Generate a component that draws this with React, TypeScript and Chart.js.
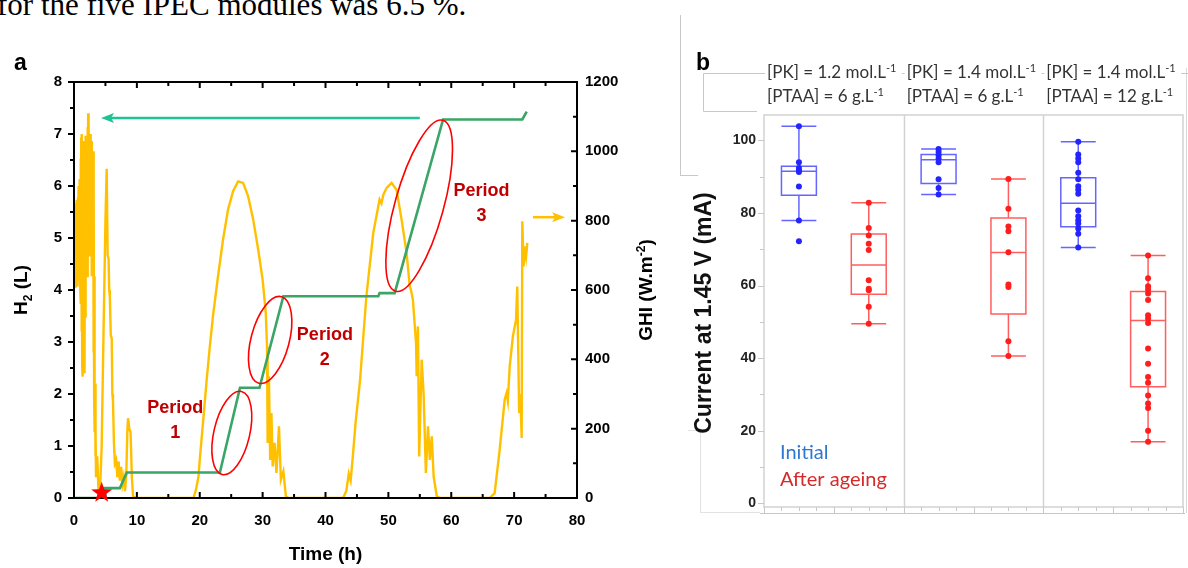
import React, { useEffect, useRef } from "react";
import { Chart, registerables } from "chart.js";

Chart.register(...registerables);

// ---------------- Panel a data ----------------
const h2Time = [0, 4.4, 4.7, 7.3, 8.4, 23.2, 26.4, 29.5, 33.3, 48.4, 48.6, 51.0, 58.7, 71.3, 72.0];
const h2Litres = [0, 0, 0.19, 0.19, 0.49, 0.49, 2.12, 2.12, 3.88, 3.88, 3.94, 3.94, 7.28, 7.28, 7.43];

const ghiTime = [
  0.05, 0.1, 0.15, 0.2, 0.25, 0.3, 0.35, 0.4, 0.45, 0.5, 0.55, 0.6, 0.65, 0.7, 0.75, 0.8, 0.85, 0.9, 0.95, 1.0,
  1.05, 1.1, 1.15, 1.2, 1.25, 1.3, 1.35, 1.4, 1.45, 1.5, 1.55, 1.6, 1.65, 1.7, 1.75, 1.8, 1.85, 1.9, 1.95, 2.0,
  2.05, 2.1, 2.15, 2.2, 2.25, 2.3, 2.35, 2.4, 2.45, 2.5, 2.55, 2.6, 2.65, 2.7, 2.75, 2.8, 2.85, 2.9, 2.95, 3.0,
  3.05, 3.1, 3.15, 3.2, 3.25, 3.3, 3.35, 3.4, 3.45, 3.5,
  3.7, 3.9, 4.1, 4.4, 4.7, 5.0, 5.2, 5.35, 5.5, 5.6, 5.7, 5.85, 6.0, 6.1, 6.2, 6.35, 6.5, 6.7, 6.9, 7.1,
  7.3, 7.5, 7.7, 7.9, 8.1, 8.3, 8.5, 8.6, 8.8, 9.0, 9.2, 9.4, 9.8,
  19.0, 19.4, 19.8, 20.0, 20.6, 21.1, 21.6, 22.1, 22.9, 23.7, 24.5, 25.3, 26.1, 26.9, 27.7, 28.5, 29.3,
  30.0, 30.5, 30.7, 30.8, 31.0, 31.2, 31.4, 31.6, 31.9, 32.2, 32.6, 32.9, 33.3, 33.7, 34.1,
  42.8, 43.3, 43.7, 44.0, 44.3, 44.8, 45.5, 46.5, 47.6, 48.6, 48.9, 49.2, 49.7, 50.5, 51.3, 52.1, 52.9,
  53.4, 53.6, 53.9, 54.4, 54.5, 54.7, 54.9, 55.3, 55.6, 55.96, 56.3, 56.6, 56.9, 57.2, 57.7, 58.2,
  66.1, 66.9, 67.7, 68.5, 68.8, 69.0, 69.3, 69.8, 70.3, 70.5, 70.8, 71.0, 71.2, 71.3, 71.5, 71.7, 71.9, 72.1,
];
const ghiValue = [
  745, 640, 790, 610, 820, 660, 850, 620, 860, 700, 830, 610, 870, 650, 900, 630, 880, 700, 920, 600,
  980, 560, 1040, 480, 1050, 380, 990, 350, 1000, 420, 1030, 600, 960, 360, 1000, 520, 1045, 650, 1010, 700,
  1040, 640, 1070, 760, 1110, 850, 1060, 700, 1040, 820, 1020, 760, 1050, 900, 1010, 640, 1030, 820, 980, 700,
  1000, 420, 900, 300, 640, 190, 330, 120, 200, 60,
  120, 20, 0, 150, 480, 800, 950, 700, 690, 600, 580, 470, 460, 300, 280, 160, 100, 110, 60, 105,
  50, 90, 40, 60, 20, 60, 200, 230, 200, 190, 60, 5, 0,
  0, 24, 62, 110, 235, 341, 437, 524, 639, 745, 832, 885, 913, 909, 870, 803, 716,
  630, 534, 437, 159, 351, 110, 245, 91, 159, 72, 207, 53, 77, 5, 0,
  0, 20, 70, 50, 110, 220, 341, 582, 765, 861, 850, 875, 894, 909, 889, 803, 707,
  610, 600, 572, 447, 351, 495, 120, 399, 303, 72, 207, 110, 178, 62, 5, 0,
  0, 14, 139, 284, 303, 280, 380, 466, 514, 610, 245, 300, 173, 798, 668, 726, 697, 736,
];

// annotation anchors (data coordinates)
const periodNames = ["1", "2", "3"];
const periodCentreT = [25.1, 31.2, 54.9];
const periodCentreH2 = [1.25, 3.04, 5.62];
const periodLabelT = [16.1, 39.9, 64.8];
const periodLabelH2 = [1.73, 3.13, 5.91];
const h2ArrowT = [55.0, 4.3];
const h2ArrowLevel = 7.31;
const ghiArrowT = [73.0, 78.1];
const ghiArrowLevel = 810;
const startMarkT = 4.4;
const startMarkH2 = 0.1;

// ---------------- Panel b data ----------------
const groupPK = ["[PK] = 1.2 mol.L", "[PK] = 1.4 mol.L", "[PK] = 1.4 mol.L"];
const groupPTAA = ["[PTAA] = 6 g.L", "[PTAA] = 6 g.L", "[PTAA] = 12 g.L"];
const groupStart = [0, 2, 4];
const boxPos = [0.5, 1.5, 2.5, 3.5, 4.5, 5.5];
const boxIsInitial = [true, false, true, false, true, false];
const whiskerHigh = [103.9, 82.8, 97.6, 89.4, 99.6, 68.3];
const quart3 = [92.9, 74.2, 96.1, 78.6, 89.7, 58.4];
const medianVal = [91.5, 65.7, 94.7, 69.1, 82.7, 50.4];
const quart1 = [84.9, 57.6, 88.1, 52.2, 76.2, 32.1];
const whiskerLow = [77.9, 49.5, 85.1, 40.6, 70.5, 17.0];

const initial1 = [103.9, 94.0, 92.4, 91.7, 91.3, 87.3, 77.9, 72.2];
const aged1 = [82.8, 75.9, 73.8, 71.5, 69.8, 61.5, 59.1, 58.7, 54.2, 49.5];
const initial2 = [97.6, 96.8, 95.9, 95.0, 94.0, 89.3, 86.9, 85.1];
const aged2 = [89.4, 81.2, 76.3, 75.0, 69.2, 60.3, 59.6, 44.7, 40.6];
const initial3 = [99.6, 96.1, 95.0, 94.0, 91.1, 89.3, 87.4, 86.4, 85.3, 80.7, 79.1, 78.0, 77.1, 75.7, 74.3, 70.5];
const aged3 = [68.3, 62.0, 59.8, 58.9, 57.8, 56.0, 51.8, 50.9, 49.7, 42.7, 38.5, 34.8, 33.2, 29.7, 27.5, 26.3, 20.0, 17.0];
const yTicksB = [0, 20, 40, 60, 80, 100];
const legendLabels = ["Initial", "After ageing"];
const legendLevels = [14.1, 6.7];

// ---------------- styles ----------------
const SANS = '"Liberation Sans", Arial, sans-serif';
const LATO = 'Lato, "Liberation Sans", sans-serif';
const YELLOW = "#ffc000";
const GREEN = "#3aa566";
const TEAL = "#1fc294";
const DARKRED = "#c00000";
const BLUE_PT = "#2424ff";
const RED_PT = "#ff1e1e";
const BLUE_LN = "rgba(50,50,255,0.75)";
const RED_LN = "rgba(255,40,40,0.75)";
const ellipseRadii = [
  [17.9, 42.6, 13.2],
  [19.1, 44.7, 14.7],
  [24.3, 88.7, 15.5],
];

type Part = { t: string; f: string; dy: number };
function drawRich(ctx: CanvasRenderingContext2D, parts: Part[], x: number, y: number, align: "left" | "center") {
  let total = 0;
  parts.forEach((p) => {
    ctx.font = p.f;
    total += ctx.measureText(p.t).width;
  });
  let cx = align === "center" ? x - total / 2 : x;
  ctx.textAlign = "left";
  parts.forEach((p) => {
    ctx.font = p.f;
    ctx.fillText(p.t, cx, y + p.dy);
    cx += ctx.measureText(p.t).width;
  });
  return total;
}

function arrow(ctx: CanvasRenderingContext2D, x0: number, x1: number, y: number, color: string) {
  const dir = Math.sign(x1 - x0);
  ctx.strokeStyle = color;
  ctx.fillStyle = color;
  ctx.lineWidth = 2.5;
  ctx.beginPath();
  ctx.moveTo(x0, y);
  ctx.lineTo(x1 - dir * 8, y);
  ctx.stroke();
  ctx.beginPath();
  ctx.moveTo(x1, y);
  ctx.lineTo(x1 - dir * 13, y - 5);
  ctx.lineTo(x1 - dir * 10, y);
  ctx.lineTo(x1 - dir * 13, y + 5);
  ctx.closePath();
  ctx.fill();
}

const panelAPlugin = {
  id: "panelA",
  afterDatasetsDraw(chart: any) {
    const { ctx, chartArea: ca, scales } = chart;
    const xs = scales.x;
    const ys = scales.y;
    const y1 = scales.y1;
    ctx.save();
    // frame
    ctx.strokeStyle = "#000";
    ctx.lineWidth = 2;
    ctx.strokeRect(ca.left, ca.top, ca.right - ca.left, ca.bottom - ca.top);
    // ticks
    ctx.beginPath();
    for (let v = 0; v <= 80; v += 5) {
      const px = xs.getPixelForValue(v);
      const len = v % 10 === 0 ? 6 : 4;
      ctx.moveTo(px, ca.bottom);
      ctx.lineTo(px, ca.bottom - len);
      ctx.moveTo(px, ca.top);
      ctx.lineTo(px, ca.top + len);
    }
    for (let v = 0; v <= 8; v += 0.5) {
      const py = ys.getPixelForValue(v);
      const len = v % 1 === 0 ? 6 : 4;
      ctx.moveTo(ca.left, py);
      ctx.lineTo(ca.left - len, py);
    }
    for (let v = 0; v <= 1200; v += 100) {
      const py = y1.getPixelForValue(v);
      const len = v % 200 === 0 ? 6 : 4;
      ctx.moveTo(ca.right, py);
      ctx.lineTo(ca.right - len, py);
    }
    ctx.stroke();

    // ellipses
    ctx.strokeStyle = "#ff0000";
    ctx.lineWidth = 1.6;
    periodCentreT.forEach((t, i) => {
      const cx = xs.getPixelForValue(t);
      const cy = ys.getPixelForValue(periodCentreH2[i]);
      const [rx, ry, rot] = ellipseRadii[i];
      ctx.beginPath();
      ctx.ellipse(cx, cy, rx, ry, (rot * Math.PI) / 180, 0, Math.PI * 2);
      ctx.stroke();
    });
    // period labels
    ctx.fillStyle = DARKRED;
    ctx.font = `bold 18px ${SANS}`;
    ctx.textAlign = "center";
    ctx.textBaseline = "middle";
    periodLabelT.forEach((t, i) => {
      const cx = xs.getPixelForValue(t);
      const cy = ys.getPixelForValue(periodLabelH2[i]);
      ctx.fillText("Period", cx, cy);
      ctx.fillText(periodNames[i], cx, cy + 25);
    });
    // arrows
    arrow(ctx, xs.getPixelForValue(h2ArrowT[0]), xs.getPixelForValue(h2ArrowT[1]), ys.getPixelForValue(h2ArrowLevel), TEAL);
    arrow(ctx, xs.getPixelForValue(ghiArrowT[0]), xs.getPixelForValue(ghiArrowT[1]), y1.getPixelForValue(ghiArrowLevel), YELLOW);
    // star
    const sx = xs.getPixelForValue(startMarkT);
    const sy = ys.getPixelForValue(startMarkH2);
    ctx.fillStyle = "#ff0000";
    ctx.beginPath();
    for (let k = 0; k < 10; k++) {
      const r = k % 2 === 0 ? 11 : 4.5;
      const a = -Math.PI / 2 + (k * Math.PI) / 5;
      const px = sx + r * Math.cos(a);
      const py = sy + r * Math.sin(a);
      if (k === 0) ctx.moveTo(px, py);
      else ctx.lineTo(px, py);
    }
    ctx.closePath();
    ctx.fill();

    // titles
    ctx.fillStyle = "#000";
    ctx.textBaseline = "alphabetic";
    ctx.font = `bold 23px ${SANS}`;
    ctx.textAlign = "left";
    ctx.fillText("a", 14, 70);
    ctx.font = `bold 19px ${SANS}`;
    ctx.textAlign = "center";
    ctx.fillText("Time (h)", (ca.left + ca.right) / 2, 560);
    const midY = (ca.top + ca.bottom) / 2;
    ctx.save();
    ctx.translate(27, midY);
    ctx.rotate(-Math.PI / 2);
    drawRich(
      ctx,
      [
        { t: "H", f: `bold 19px ${SANS}`, dy: 0 },
        { t: "2", f: `bold 12px ${SANS}`, dy: 5 },
        { t: " (L)", f: `bold 19px ${SANS}`, dy: 0 },
      ],
      0,
      0,
      "center"
    );
    ctx.restore();
    ctx.save();
    ctx.translate(652, midY);
    ctx.rotate(-Math.PI / 2);
    drawRich(
      ctx,
      [
        { t: "GHI (W.m", f: `bold 19px ${SANS}`, dy: 0 },
        { t: "-2", f: `bold 12px ${SANS}`, dy: -7 },
        { t: ")", f: `bold 19px ${SANS}`, dy: 0 },
      ],
      0,
      0,
      "center"
    );
    ctx.restore();
    ctx.restore();
  },
};

const panelBPlugin = {
  id: "panelB",
  beforeDatasetsDraw(chart: any) {
    const { ctx, chartArea: ca, scales } = chart;
    const xs = scales.x;
    const ys = scales.y;
    ctx.save();
    // frame & separators
    ctx.strokeStyle = "#d2d2d2";
    ctx.lineWidth = 1.5;
    ctx.strokeRect(ca.left, ca.top, ca.right - ca.left, ca.bottom - ca.top);
    ctx.beginPath();
    groupStart.slice(1).forEach((g) => {
      const px = Math.round(xs.getPixelForValue(g)) + 0.5;
      ctx.moveTo(px, ca.top);
      ctx.lineTo(px, ca.bottom);
    });
    ctx.stroke();
    // bottom axis band with ticks
    ctx.strokeStyle = "#c8c8c8";
    ctx.lineWidth = 1;
    ctx.beginPath();
    ctx.moveTo(ca.left - 4, ca.bottom + 6.5);
    ctx.lineTo(ca.right + 2, ca.bottom + 6.5);
    for (let v = 0; v <= 6.001; v += 0.25) {
      const px = Math.round(xs.getPixelForValue(v)) + 0.5;
      ctx.moveTo(px, ca.bottom);
      ctx.lineTo(px, ca.bottom + (Math.abs(v - Math.round(v)) < 0.01 ? 6 : 4));
    }
    // left ticks
    for (let v = 0; v <= 100; v += 10) {
      const py = Math.round(ys.getPixelForValue(v)) + 0.5;
      ctx.moveTo(ca.left, py);
      ctx.lineTo(ca.left - (v % 20 === 0 ? 6 : 4), py);
    }
    ctx.stroke();
    // outer page edge at the right
    ctx.strokeStyle = "#d8d8d8";
    ctx.beginPath();
    ctx.moveTo(ca.right + 3.5, 68);
    ctx.lineTo(ca.right + 3.5, ca.bottom + 6);
    ctx.stroke();

    // boxes
    ctx.lineWidth = 1.5;
    boxPos.forEach((p, i) => {
      ctx.strokeStyle = boxIsInitial[i] ? BLUE_LN : RED_LN;
      const cx = xs.getPixelForValue(p);
      const l = xs.getPixelForValue(p - 0.25);
      const r = xs.getPixelForValue(p + 0.25);
      const yq3 = ys.getPixelForValue(quart3[i]);
      const yq1 = ys.getPixelForValue(quart1[i]);
      const ym = ys.getPixelForValue(medianVal[i]);
      const yh = ys.getPixelForValue(whiskerHigh[i]);
      const yl = ys.getPixelForValue(whiskerLow[i]);
      ctx.beginPath();
      ctx.rect(l, yq3, r - l, yq1 - yq3);
      ctx.moveTo(l, ym);
      ctx.lineTo(r, ym);
      ctx.moveTo(cx, yq3);
      ctx.lineTo(cx, yh);
      ctx.moveTo(cx, yq1);
      ctx.lineTo(cx, yl);
      ctx.moveTo(l, yh);
      ctx.lineTo(r, yh);
      ctx.moveTo(l, yl);
      ctx.lineTo(r, yl);
      ctx.stroke();
    });
    ctx.restore();
  },
  afterDraw(chart: any) {
    const { ctx, chartArea: ca, scales } = chart;
    const xs = scales.x;
    const ys = scales.y;
    ctx.save();
    // document frame lines around the header and the axis
    ctx.strokeStyle = "#c8c8c8";
    ctx.lineWidth = 1;
    ctx.beginPath();
    ctx.moveTo(23.5, 73.5);
    ctx.lineTo(508, 73.5);
    ctx.moveTo(23.5, 73.5);
    ctx.lineTo(23.5, 111.5);
    ctx.lineTo(77, 111.5);
    ctx.moveTo(0, 175.5);
    ctx.lineTo(18, 175.5);
    ctx.stroke();
    ctx.strokeStyle = "#e2e2e2";
    ctx.beginPath();
    ctx.moveTo(8, 430.5);
    ctx.lineTo(20.5, 430.5);
    ctx.lineTo(20.5, 512.5);
    ctx.lineTo(80, 512.5);
    ctx.stroke();
    // headers
    ctx.textBaseline = "middle";
    groupStart.forEach((g, i) => {
      const x0 = xs.getPixelForValue(g) + 3;
      ctx.fillStyle = "#fff";
      ctx.font = `17px ${LATO}`;
      const w = ctx.measureText(groupPK[i]).width + 14;
      ctx.fillRect(x0 - 2, 63, w + 4, 20);
      ctx.fillStyle = "#333";
      drawRich(
        ctx,
        [
          { t: groupPK[i], f: `17px ${LATO}`, dy: 0 },
          { t: "-1", f: `11px ${LATO}`, dy: -5 },
        ],
        x0,
        73,
        "left"
      );
      drawRich(
        ctx,
        [
          { t: groupPTAA[i], f: `17px ${LATO}`, dy: 0 },
          { t: "-1", f: `11px ${LATO}`, dy: -5 },
        ],
        x0,
        97,
        "left"
      );
    });
    // legend text
    ctx.font = `20px ${LATO}`;
    ctx.textAlign = "left";
    legendLabels.forEach((t, i) => {
      ctx.fillStyle = i === 0 ? "#2f78d2" : "#d42a2a";
      ctx.fillText(t, xs.getPixelForValue(0) + 16, ys.getPixelForValue(legendLevels[i]));
    });
    // panel letter & axis title
    ctx.fillStyle = "#000";
    ctx.textBaseline = "alphabetic";
    ctx.font = `bold 23px ${SANS}`;
    ctx.fillText("b", 16, 70);
    ctx.save();
    ctx.translate(31, (ca.top + ca.bottom) / 2 + 2);
    ctx.rotate(-Math.PI / 2);
    ctx.textAlign = "center";
    ctx.fillStyle = "#111";
    ctx.font = `bold 23px ${SANS}`;
    ctx.fillText("Current at 1.45 V (mA)", 0, 0);
    ctx.restore();
    ctx.restore();
  },
};

export default function App() {
  const refA = useRef<HTMLCanvasElement>(null);
  const refB = useRef<HTMLCanvasElement>(null);

  useEffect(() => {
    const tickFont = { family: SANS, size: 15, weight: "bold" as const };
    const plain = (v: any) => String(v);
    const chartA = new Chart(refA.current as HTMLCanvasElement, {
      type: "line",
      data: {
        datasets: [
          {
            label: "H2",
            data: h2Time.map((t, i) => ({ x: t, y: h2Litres[i] })),
            yAxisID: "y",
            borderColor: GREEN,
            borderWidth: 2.6,
            pointRadius: 0,
            tension: 0,
            order: 0,
          },
          {
            label: "GHI",
            data: ghiTime.map((t, i) => ({ x: t, y: ghiValue[i] })),
            yAxisID: "y1",
            borderColor: YELLOW,
            borderWidth: 2.4,
            pointRadius: 0,
            tension: 0,
            order: 1,
          },
        ],
      },
      options: {
        animation: false,
        responsive: false,
        maintainAspectRatio: false,
        devicePixelRatio: 1,
        layout: { padding: { top: 82, left: 0, right: 0, bottom: 0 } },
        plugins: { legend: { display: false }, tooltip: { enabled: false } },
        scales: {
          x: {
            type: "linear",
            min: 0,
            max: 80,
            ticks: { stepSize: 10, font: tickFont, color: "#000", padding: 14, maxRotation: 0, callback: plain },
            grid: { display: false, drawTicks: false },
            border: { display: false },
            afterFit: (s: any) => {
              s.height = 70;
            },
          },
          y: {
            type: "linear",
            position: "left",
            min: 0,
            max: 8,
            ticks: { stepSize: 1, font: tickFont, color: "#000", padding: 12, callback: plain },
            grid: { display: false, drawTicks: false },
            border: { display: false },
            afterFit: (s: any) => {
              s.width = 74;
            },
          },
          y1: {
            type: "linear",
            position: "right",
            min: 0,
            max: 1200,
            ticks: { stepSize: 200, font: tickFont, color: "#000", padding: 8, callback: plain },
            grid: { display: false, drawTicks: false },
            border: { display: false },
            afterFit: (s: any) => {
              s.width = 103;
            },
          },
        },
      },
      plugins: [panelAPlugin],
    });

    const pts = (vals: number[], pos: number) => vals.map((v) => ({ x: pos, y: v }));
    const chartB = new Chart(refB.current as HTMLCanvasElement, {
      type: "scatter",
      data: {
        datasets: [
          {
            label: "Initial",
            data: [...pts(initial1, boxPos[0]), ...pts(initial2, boxPos[2]), ...pts(initial3, boxPos[4])],
            backgroundColor: BLUE_PT,
            borderWidth: 0,
            pointRadius: 3,
          },
          {
            label: "After ageing",
            data: [...pts(aged1, boxPos[1]), ...pts(aged2, boxPos[3]), ...pts(aged3, boxPos[5])],
            backgroundColor: RED_PT,
            borderWidth: 0,
            pointRadius: 3,
          },
        ],
      },
      options: {
        animation: false,
        responsive: false,
        maintainAspectRatio: false,
        devicePixelRatio: 1,
        layout: { padding: { top: 115, right: 5, left: 0, bottom: 0 } },
        plugins: { legend: { display: false }, tooltip: { enabled: false } },
        scales: {
          x: {
            type: "linear",
            min: 0,
            max: 6,
            ticks: { display: false },
            grid: { display: false, drawTicks: false },
            border: { display: false },
            afterFit: (s: any) => {
              s.height = 61;
            },
          },
          y: {
            type: "linear",
            min: -1,
            max: 107,
            afterBuildTicks: (s: any) => {
              s.ticks = yTicksB.map((v) => ({ value: v }));
            },
            ticks: { font: { family: SANS, size: 14, weight: "bold" }, color: "#222", padding: 8, callback: plain },
            grid: { display: false, drawTicks: false },
            border: { display: false },
            afterFit: (s: any) => {
              s.width = 84;
            },
          },
        },
      },
      plugins: [panelBPlugin],
    });

    return () => {
      chartA.destroy();
      chartB.destroy();
    };
  }, []);

  return (
    <div
      style={{
        position: "fixed",
        left: 0,
        top: 0,
        width: 1188,
        height: 568,
        background: "#fff",
        overflow: "hidden",
      }}
    >
      <div
        style={{
          position: "absolute",
          left: -3,
          top: -11,
          fontFamily: '"Liberation Serif", "Times New Roman", serif',
          fontSize: 31,
          lineHeight: "31px",
          whiteSpace: "nowrap",
          color: "#000",
        }}
      >
        for the five IPEC modules was 6.5 %.
      </div>
      <div style={{ position: "absolute", left: 680, top: 15, width: 1, height: 160, background: "#c8c8c8" }} />
      <canvas
        ref={refA}
        width={680}
        height={568}
        style={{ position: "absolute", left: 0, top: 0, width: 680, height: 568 }}
      />
      <canvas
        ref={refB}
        width={508}
        height={568}
        style={{ position: "absolute", left: 680, top: 0, width: 508, height: 568 }}
      />
    </div>
  );
}
